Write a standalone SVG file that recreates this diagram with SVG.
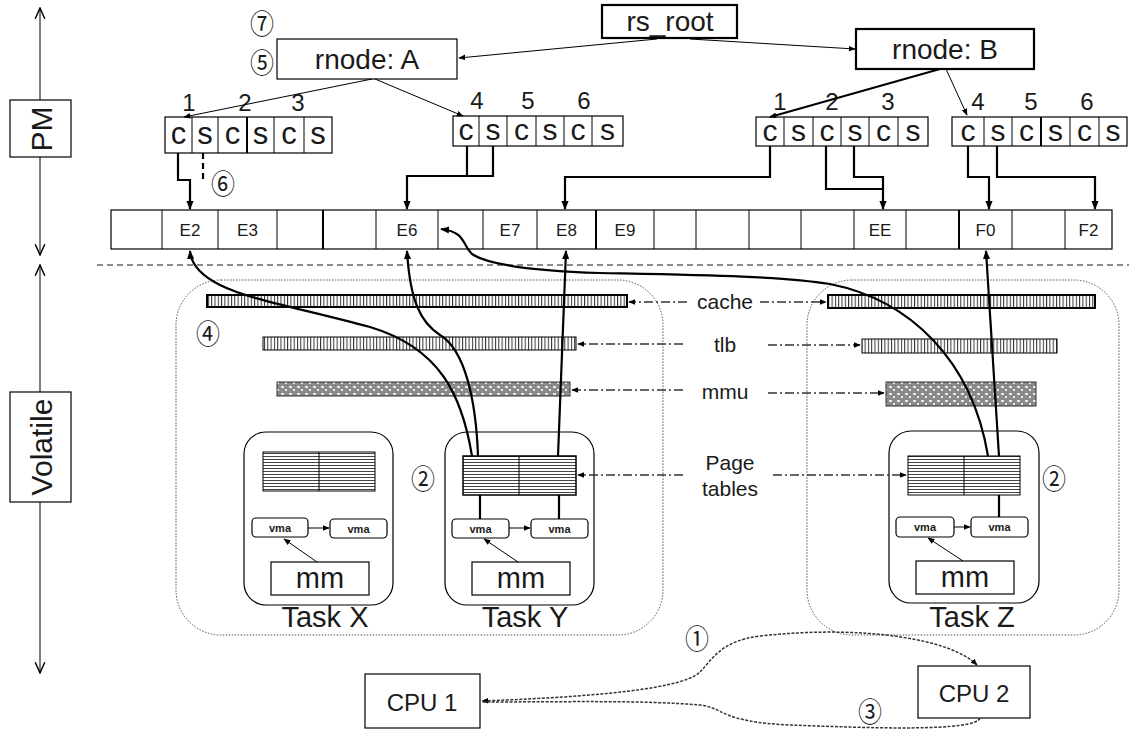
<svg xmlns="http://www.w3.org/2000/svg" width="1129" height="730" viewBox="0 0 1129 730">
<style>
.t{font-family:"Liberation Sans",Arial,sans-serif;fill:#1a1a1a;text-anchor:middle;dominant-baseline:central}
.c{font-family:"Noto Sans CJK JP","DejaVu Sans",sans-serif;fill:#1a1a1a;text-anchor:middle;dominant-baseline:central;font-size:24px}
.box{fill:#fff;stroke:#000;stroke-width:1.2}
.bk{fill:#fff;stroke:#000;stroke-width:2.2}
.thin{fill:none;stroke:#000;stroke-width:1}
.wire{fill:none;stroke:#000;stroke-width:2.2}
.dd{fill:none;stroke:#333;stroke-width:1.3;stroke-dasharray:9 3 2 3}
.dot{fill:none;stroke:#555;stroke-width:1;stroke-dasharray:1.5 1.5}
.cpu{fill:none;stroke:#333;stroke-width:1.5;stroke-dasharray:3 1.5}
.vma{fill:#fff;stroke:#000;stroke-width:1.2}
</style>
<defs>
<marker id="ah" viewBox="0 0 10 10" refX="9" refY="5" markerWidth="9" markerHeight="9" markerUnits="userSpaceOnUse" orient="auto-start-reverse"><path d="M0,1 L10,5 L0,9 z" fill="#000"/></marker>
<marker id="ahs" viewBox="0 0 10 10" refX="9" refY="5" markerWidth="7" markerHeight="7" markerUnits="userSpaceOnUse" orient="auto-start-reverse"><path d="M0,1 L10,5 L0,9 z" fill="#000"/></marker>
<marker id="open" viewBox="0 0 10 10" refX="9" refY="5" markerWidth="12" markerHeight="12" markerUnits="userSpaceOnUse" orient="auto-start-reverse"><path d="M0,1 L9,5 L0,9" fill="none" stroke="#000" stroke-width="1.2"/></marker>
<pattern id="vs" width="3.3" height="10" patternUnits="userSpaceOnUse"><rect width="3.3" height="10" fill="#fff"/><rect width="1" height="10" fill="#333"/></pattern>
<pattern id="hs" width="10" height="3" patternUnits="userSpaceOnUse"><rect width="10" height="3" fill="#fff"/><rect width="10" height="1" fill="#444"/></pattern>
<pattern id="ck" width="8" height="7" patternUnits="userSpaceOnUse"><rect width="8" height="7" fill="#8a8a8a"/><rect x="1" y="1" width="3" height="2" fill="#e8e8e8"/><rect x="5" y="4" width="2" height="2" fill="#e8e8e8"/></pattern>
</defs>

<g id="axes">
<line x1="40" y1="8" x2="40" y2="255" class="thin" marker-start="url(#open)" marker-end="url(#open)"/>
<line x1="40" y1="265" x2="40" y2="673" class="thin" marker-start="url(#open)" marker-end="url(#open)"/>
<line x1="97" y1="265" x2="1129" y2="265" stroke="#666" stroke-width="1.5" stroke-dasharray="6 4"/>
</g>
<g id="pm-label"><rect x="10" y="100" width="61" height="57" class="box"/><text class="t" font-size="30" transform="translate(41 129) rotate(-90)">PM</text></g>
<g id="volatile-label"><rect x="10" y="392" width="61" height="110" class="box"/><text class="t" font-size="30" transform="translate(41 447) rotate(-90)">Volatile</text></g>

<g id="rs_root"><rect x="602" y="5" width="135" height="33" class="bk"/><text class="t" x="670" y="21" font-size="28">rs_root</text></g>
<g id="rnodeA"><rect x="277" y="39" width="180" height="40" class="box"/><text class="t" x="367" y="59" font-size="28">rnode: A</text></g>
<g id="rnodeB"><rect x="856" y="29" width="178" height="40" class="bk"/><text class="t" x="945" y="49" font-size="28">rnode: B</text></g>
<g id="marks-top">
<text class="c" transform="translate(262 22) scale(1 1.15)">⑦</text>
<text class="c" transform="translate(262 61) scale(1 1.15)">⑤</text>
<text class="c" transform="translate(223 182) scale(1 1.15)">⑥</text>
</g>

<g id="slotsA1">
<rect x="165" y="117" width="167" height="36" class="box"/>
<path d="M192,117V153M218,117V153M274,117V153M304,117V153" class="thin"/><path d="M247,117V153" stroke="#000" stroke-width="2"/>
<g class="t" font-size="31"><text x="178.5" y="133">c</text><text x="205" y="133">s</text><text x="232.5" y="133">c</text><text x="260.5" y="133">s</text><text x="289" y="133">c</text><text x="318" y="133">s</text></g>
<g class="t" font-size="24"><text x="189" y="102">1</text><text x="245" y="102">2</text><text x="298" y="102">3</text></g>
</g>
<g id="slotsA2">
<rect x="453" y="116" width="170" height="30" class="box"/>
<path d="M479,116V146M507,116V146M536,116V146M564,116V146M592,116V146" class="thin"/>
<g class="t" font-size="30"><text x="466" y="129">c</text><text x="493" y="129">s</text><text x="521.5" y="129">c</text><text x="550" y="129">s</text><text x="578" y="129">c</text><text x="607.5" y="129">s</text></g>
<g class="t" font-size="24"><text x="477" y="100">4</text><text x="528" y="100">5</text><text x="584" y="100">6</text></g>
</g>
<g id="slotsB1">
<rect x="756" y="117" width="172" height="29" class="box"/>
<path d="M784,117V146M813,117V146M841,117V146M869,117V146M898,117V146" class="thin"/>
<g class="t" font-size="30"><text x="770" y="130">c</text><text x="798.5" y="130">s</text><text x="827" y="130">c</text><text x="855" y="130">s</text><text x="883.5" y="130">c</text><text x="913" y="130">s</text></g>
<g class="t" font-size="24"><text x="780" y="101">1</text><text x="832" y="101">2</text><text x="888" y="101">3</text></g>
</g>
<g id="slotsB2">
<rect x="952" y="117" width="175" height="29" class="box"/>
<path d="M984,117V146M1012,117V146M1070,117V146M1099,117V146" class="thin"/><path d="M1041,117V146" stroke="#000" stroke-width="2"/>
<g class="t" font-size="30"><text x="968" y="130">c</text><text x="998" y="130">s</text><text x="1026.5" y="130">c</text><text x="1055.5" y="130">s</text><text x="1084.5" y="130">c</text><text x="1113" y="130">s</text></g>
<g class="t" font-size="24"><text x="978" y="101">4</text><text x="1031" y="101">5</text><text x="1087" y="101">6</text></g>
</g>

<g id="pm-pages">
<rect x="111" y="210" width="1001" height="39" class="box"/>
<path d="M162,210V249M218,210V249M277,210V249M376,210V249M438,210V249M483,210V249M537,210V249M654,210V249M696,210V249M749,210V249M801,210V249M854,210V249M906,210V249M1012,210V249M1065,210V249" class="thin"/>
<path d="M323,210V249M596,210V249M959,210V249" stroke="#000" stroke-width="2"/>
<g class="t" font-size="17"><text x="190" y="230">E2</text><text x="247.5" y="230">E3</text><text x="407" y="230">E6</text><text x="510" y="230">E7</text><text x="566.5" y="230">E8</text><text x="625" y="230">E9</text><text x="880" y="230">EE</text><text x="985.5" y="230">F0</text><text x="1088.5" y="230">F2</text></g>
</g>

<g id="cpu-groups">
<rect x="176" y="280" width="487" height="355" rx="45" class="dot"/>
<rect x="807" y="280" width="312" height="355" rx="45" class="dot"/>
</g>
<g id="cache">
<rect x="207" y="295" width="420" height="12" fill="url(#vs)" stroke="#000" stroke-width="2"/>
<rect x="828" y="295" width="267" height="13" fill="url(#vs)" stroke="#000" stroke-width="2"/>
<text class="t" x="725" y="301" font-size="21">cache</text>
</g>
<g id="tlb">
<rect x="263" y="337" width="313" height="13" fill="url(#vs)" stroke="#000" stroke-width="1"/>
<rect x="862" y="339" width="195" height="14" fill="url(#vs)" stroke="#000" stroke-width="1"/>
<text class="t" x="725" y="344" font-size="21">tlb</text>
</g>
<g id="mmu">
<rect x="277" y="382" width="293" height="14" fill="url(#ck)" stroke="#333" stroke-width="1"/>
<rect x="886" y="382" width="150" height="24" fill="url(#ck)" stroke="#333" stroke-width="1"/>
<text class="t" x="725" y="391" font-size="21">mmu</text>
</g>
<g id="pagetables-label"><text class="t" x="730" y="462" font-size="21">Page</text><text class="t" x="730" y="488" font-size="21">tables</text></g>
<g id="marks-mid">
<text class="c" transform="translate(208 332) scale(1 1.15)">④</text>
<text class="c" transform="translate(423 477) scale(1 1.15)">②</text>
<text class="c" transform="translate(1054 477) scale(1 1.15)">②</text>
<text class="c" transform="translate(697 637) scale(1 1.15)">①</text>
<text class="c" transform="translate(870 710) scale(1 1.15)">③</text>
</g>

<g id="taskX">
<rect x="244" y="432" width="149" height="173" rx="22" class="box"/>
<rect x="263" y="452" width="112" height="39" fill="url(#hs)" stroke="#000" stroke-width="1"/><line x1="319" y1="452" x2="319" y2="491" class="thin"/>
<rect x="252" y="518" width="56" height="19" rx="4" class="vma"/><text class="t" x="280" y="528" font-size="11" font-weight="bold">vma</text>
<rect x="330" y="519" width="57" height="19" rx="4" class="vma"/><text class="t" x="358.5" y="529" font-size="11" font-weight="bold">vma</text>
<rect x="271" y="562" width="98" height="33" class="box"/><text class="t" x="320" y="578" font-size="29">mm</text>
<text class="t" x="325" y="617" font-size="29">Task X</text>
</g>
<g id="taskY">
<rect x="445" y="432" width="149" height="173" rx="22" class="box"/>
<rect x="463" y="456" width="113" height="39" fill="url(#hs)" stroke="#000" stroke-width="1.5"/><line x1="519" y1="456" x2="519" y2="495" class="thin"/>
<rect x="452" y="519" width="57" height="19" rx="4" class="vma"/><text class="t" x="480.5" y="529" font-size="11" font-weight="bold">vma</text>
<rect x="531" y="519" width="57" height="19" rx="4" class="vma"/><text class="t" x="559.5" y="529" font-size="11" font-weight="bold">vma</text>
<rect x="472" y="562" width="98" height="33" class="box"/><text class="t" x="521" y="578" font-size="29">mm</text>
<text class="t" x="525" y="617" font-size="29">Task Y</text>
</g>
<g id="taskZ">
<rect x="889" y="431" width="150" height="172" rx="22" class="box"/>
<rect x="908" y="456" width="112" height="39" fill="url(#hs)" stroke="#000" stroke-width="1"/><line x1="964" y1="456" x2="964" y2="495" class="thin"/>
<rect x="896" y="517" width="58" height="20" rx="4" class="vma"/><text class="t" x="925" y="527" font-size="11" font-weight="bold">vma</text>
<rect x="971" y="517" width="57" height="20" rx="4" class="vma"/><text class="t" x="999.5" y="527" font-size="11" font-weight="bold">vma</text>
<rect x="916" y="561" width="98" height="33" class="box"/><text class="t" x="965" y="577" font-size="29">mm</text>
<text class="t" x="972" y="617" font-size="29">Task Z</text>
</g>
<g id="cpu1"><rect x="365" y="674" width="115" height="54" class="box"/><text class="t" x="422" y="702" font-size="24">CPU 1</text></g>
<g id="cpu2"><rect x="918" y="666" width="112" height="52" class="box"/><text class="t" x="974" y="693" font-size="24">CPU 2</text></g>

<g id="connectors">
<path d="M657,39 L459,58" class="thin" marker-end="url(#ahs)"/>
<path d="M690,39 L855,49" class="thin" marker-end="url(#ahs)"/>
<path d="M372,79 L184,117" class="thin" marker-end="url(#ahs)"/>
<path d="M375,79 L463,116" class="thin" marker-end="url(#ahs)"/>
<path d="M940,69 L770,117" fill="none" stroke="#000" stroke-width="2" marker-end="url(#ahs)"/>
<path d="M946,69 L967,115" class="thin" marker-end="url(#ahs)"/>

<path d="M178,153 V180 H190 V209" class="wire" marker-end="url(#ah)"/>
<path d="M203,153 V183" class="wire" stroke-dasharray="6 4"/>
<path d="M467,146 V176 H407 V209" class="wire" marker-end="url(#ah)"/>
<path d="M493,146 V176 H467" class="wire"/>
<path d="M770,146 V177 H565 V209" class="wire" marker-end="url(#ah)"/>
<path d="M826,146 V189 H883 V209" class="wire" marker-end="url(#ah)"/>
<path d="M854,146 V177 H883 V189" class="wire"/>
<path d="M968,146 V177 H989 V209" class="wire" marker-end="url(#ah)"/>
<path d="M997,146 V177 H1095 V209" class="wire" marker-end="url(#ah)"/>

<path d="M687,302 L629,302" class="dd" marker-end="url(#ahs)"/>
<path d="M760,302 L826,302" class="dd" marker-end="url(#ahs)"/>
<path d="M683,344 L578,344" class="dd" marker-end="url(#ahs)"/>
<path d="M768,345 L860,345" class="dd" marker-end="url(#ahs)"/>
<path d="M683,390 L572,390" class="dd" marker-end="url(#ahs)"/>
<path d="M768,393 L884,393" class="dd" marker-end="url(#ahs)"/>
<path d="M683,475 L578,475" class="dd" marker-end="url(#ahs)"/>
<path d="M773,475 L906,475" class="dd" marker-end="url(#ahs)"/>

<path d="M308,528 L329,528" class="thin" marker-end="url(#ahs)"/>
<path d="M509,528 L530,528" class="thin" marker-end="url(#ahs)"/>
<path d="M954,527 L970,527" class="thin" marker-end="url(#ahs)"/>
<path d="M317,562 L284,539" class="thin" marker-end="url(#ahs)"/>
<path d="M518,562 L484,539" class="thin" marker-end="url(#ahs)"/>
<path d="M963,561 L928,538" class="thin" marker-end="url(#ahs)"/>
<path d="M480,495 V519 M559,495 V519 M999,495 V517" class="wire"/>

<path d="M472,456 C462,395 440,348 370,327 C300,308 250,300 220,285 C200,275 191,264 190,251" class="wire" marker-end="url(#ah)"/>
<path d="M478,456 C476,400 465,350 440,335 C420,322 410,300 407,251" class="wire" marker-end="url(#ah)"/>
<path d="M558,456 L566,251" class="wire" marker-end="url(#ah)"/>
<path d="M988,456 C972,360 910,300 830,284 C780,276 700,275 600,273 C540,271 490,266 472,254 C462,245 466,232 441,229" class="wire" marker-end="url(#ah)"/>
<path d="M999,456 L986,251" class="wire" marker-end="url(#ah)"/>

<path d="M977,665 C950,638 860,625 760,636 C720,641 712,660 700,672 C680,692 560,698 482,701" class="cpu" marker-start="url(#ahs)" marker-end="url(#ahs)"/>
<path d="M980,718 C975,732 870,728 790,725 C720,722 725,708 700,705 C640,700 560,702 482,702" class="cpu"/>
</g>
</svg>
